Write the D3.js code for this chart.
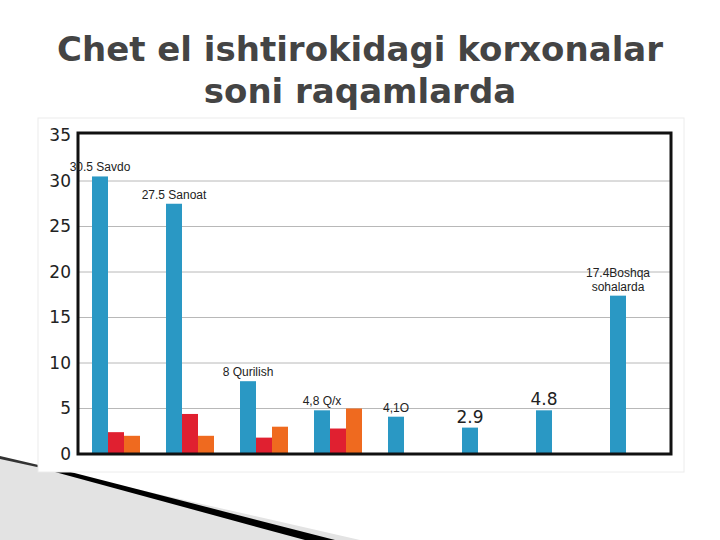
<!DOCTYPE html>
<html><head><meta charset="utf-8">
<script src="https://cdn.jsdelivr.net/npm/d3@7"></script>
<style>html,body{margin:0;padding:0;background:#fff;}svg{display:block;}</style>
</head><body>
<script>
const categories = ["Savdo","Sanoat","Qurilish","Q/x","O","Boshqa1","Boshqa2","Boshqa sohalarda"];
const series1 = [30.5, 27.5, 8, 4.8, 4.1, 2.9, 4.8, 17.4];
const series2 = [2.4, 4.4, 1.8, 2.8, null, null, null, null];
const series3 = [2.0, 2.0, 3.0, 5.0, null, null, null, null];
const barLabels = [["30.5 Savdo"],["27.5 Sanoat"],["8 Qurilish"],["4,8 Q/x"],["4,1O"],["2.9"],["4.8"],["17.4Boshqa","sohalarda"]];
const bigLabel = [false,false,false,false,false,true,true,false];
const yTicks = [0,5,10,15,20,25,30,35];
const seriesNames = ["s1","s2","s3"];
const seriesColors = ["#2a98c4","#e02030","#ef6a1f"];
const title = ["Chet el ishtirokidagi korxonalar","soni raqamlarda"];

const W=720,H=540;
const svg=d3.select("body").append("svg").attr("width",W).attr("height",H);

// slide decoration bottom-left
svg.append("path").attr("d","M0,458 L360,540 L0,540 Z").attr("fill","#e3e3e3");
svg.append("path").attr("d","M0,456 L60,470 L60,472 L0,459 Z").attr("fill","#333");
svg.append("path").attr("d","M55,468 L335,540 L305,540 L55,472 Z").attr("fill","#000");

// card
svg.append("rect").attr("x",38).attr("y",118).attr("width",646).attr("height",354)
  .attr("fill","#fff").attr("stroke","#ececec").attr("stroke-width",1);

// title
const tt=svg.append("text").attr("text-anchor","middle")
  .attr("font-family","DejaVu Sans").attr("font-weight","bold").attr("font-size",34).attr("fill","#444");
title.forEach((t,i)=>tt.append("tspan").attr("x",360).attr("y",61+i*42).text(t));

const plotL=78, plotR=671, plotT=133, plotB=454;
const y=d3.scaleLinear().domain([0,35]).range([454,135.5]);
const x0=d3.scaleBand().domain(categories).range([92,92+74*8]).padding(0);
const x1=d3.scaleBand().domain(seriesNames).range([0,48]).padding(0);

// gridlines
svg.append("g").selectAll("line").data(yTicks.filter(v=>v>0&&v<35)).join("line")
  .attr("x1",plotL).attr("x2",plotR).attr("y1",d=>y(d)).attr("y2",d=>y(d))
  .attr("stroke","#b8b8b8").attr("stroke-width",1);

// y axis
const ax=svg.append("g").attr("transform",`translate(${plotL},0)`)
  .call(d3.axisLeft(y).tickValues(yTicks).tickSize(0).tickPadding(7));
ax.select(".domain").remove();
ax.selectAll("text").attr("font-family","DejaVu Sans").attr("font-size",17).attr("fill","#222");

// bars
const allSeries=[series1,series2,series3];
allSeries.forEach((s,si)=>{
  svg.append("g").selectAll("rect").data(categories.map((c,i)=>({c,v:s[i]})).filter(d=>d.v!=null)).join("rect")
    .attr("x",d=>x0(d.c)+x1(seriesNames[si]))
    .attr("width",x1.bandwidth())
    .attr("y",d=>y(d.v)).attr("height",d=>y(0)-y(d.v))
    .attr("fill",seriesColors[si]);
});

// frame
svg.append("rect").attr("x",plotL).attr("y",plotT).attr("width",plotR-plotL).attr("height",plotB-plotT)
  .attr("fill","none").attr("stroke","#111").attr("stroke-width",3);

// labels
categories.forEach((c,i)=>{
  const cx=x0(c)+x1("s1")+x1.bandwidth()/2;
  const top=y(series1[i]);
  const lines=barLabels[i];
  const t=svg.append("text").attr("text-anchor","middle")
    .attr("font-family",bigLabel[i]?"DejaVu Sans":"Liberation Sans")
    .attr("font-size",bigLabel[i]?17:12).attr("fill","#222");
  lines.forEach((l,k)=>t.append("tspan").attr("x",cx).attr("y",top-5-(lines.length-1-k)*14).text(l));
});
</script>
</body></html>
